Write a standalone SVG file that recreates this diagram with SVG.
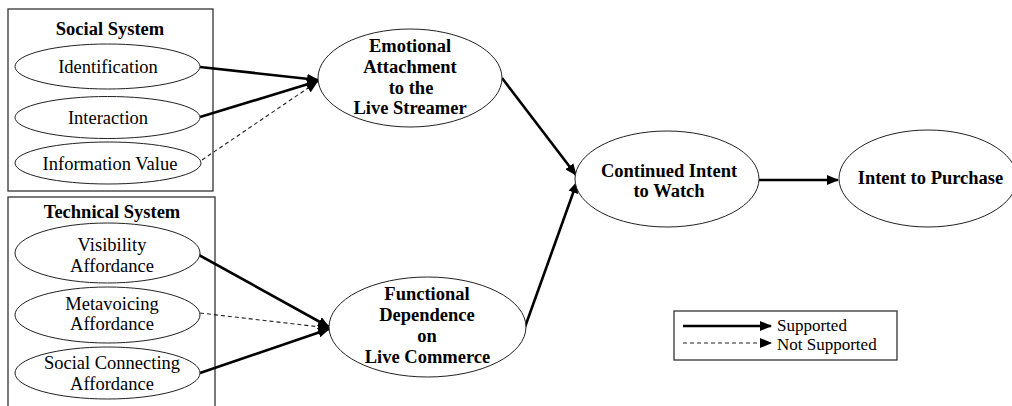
<svg xmlns="http://www.w3.org/2000/svg" width="1012" height="406" viewBox="0 0 1012 406">
<style>
text{font-family:"Liberation Serif","Times New Roman",serif;font-size:18.5px;fill:#000;text-anchor:middle}
.b{font-weight:bold}
.lg{text-anchor:start;font-size:17px}
ellipse{fill:#fff;stroke:#222;stroke-width:1}
.box{fill:none;stroke:#333;stroke-width:1.3}
.s{stroke:#000;stroke-width:2.6;fill:none;marker-end:url(#ah)}
.d{stroke:#222;stroke-width:1.1;stroke-dasharray:4 3;fill:none;marker-end:url(#ah)}
</style>
<defs>
<marker id="ah" viewBox="0 0 12 10" refX="11" refY="5" markerWidth="12" markerHeight="10" markerUnits="userSpaceOnUse" orient="auto">
<path d="M0,0 L12,5 L0,10 z" fill="#000"/>
</marker>
</defs>
<rect width="1012" height="406" fill="#fff"/>
<g id="social-system">
<rect class="box" x="8" y="9" width="205" height="182"/>
<text class="b" x="110" y="35">Social System</text>
</g>
<g id="technical-system">
<rect class="box" x="8" y="197" width="207" height="215"/>
<text class="b" x="112" y="218">Technical System</text>
</g>
<g id="connectors">
<line class="s" x1="200" y1="67" x2="318" y2="80"/>
<line class="s" x1="200" y1="117" x2="318" y2="81"/>
<line class="d" x1="202" y1="160" x2="317" y2="82"/>
<line class="s" x1="199" y1="255" x2="329" y2="327"/>
<line class="d" x1="200" y1="313" x2="329" y2="328"/>
<line class="s" x1="200" y1="373" x2="329" y2="329"/>
<line class="s" x1="502" y1="78" x2="576" y2="175"/>
<line class="s" x1="525" y1="327" x2="577" y2="182"/>
<line class="s" x1="759" y1="180" x2="838" y2="180"/>
</g>
<g id="identification">
<ellipse cx="107.5" cy="66.5" rx="92.5" ry="22.5"/>
<text x="108" y="73">Identification</text>
</g>
<g id="interaction">
<ellipse cx="107.5" cy="117.5" rx="92.5" ry="21"/>
<text x="108" y="124">Interaction</text>
</g>
<g id="information-value">
<ellipse cx="108" cy="163" rx="93" ry="21"/>
<text x="110" y="170">Information Value</text>
</g>
<g id="visibility-affordance">
<ellipse cx="107.5" cy="253" rx="92.5" ry="30"/>
<text x="112" y="251">Visibility</text>
<text x="112" y="271.5">Affordance</text>
</g>
<g id="metavoicing-affordance">
<ellipse cx="107.5" cy="315" rx="92.5" ry="28"/>
<text x="112" y="310">Metavoicing</text>
<text x="112" y="330">Affordance</text>
</g>
<g id="social-connecting-affordance">
<ellipse cx="107.5" cy="373" rx="92.5" ry="26"/>
<text x="112" y="369">Social Connecting</text>
<text x="112" y="390">Affordance</text>
</g>
<g id="emotional-attachment">
<ellipse cx="410" cy="78" rx="92" ry="49"/>
<text class="b" x="410" y="52">Emotional</text>
<text class="b" x="410" y="73">Attachment</text>
<text class="b" x="411" y="94">to the</text>
<text class="b" x="410" y="114">Live Streamer</text>
</g>
<g id="functional-dependence">
<ellipse cx="427.5" cy="327" rx="98.5" ry="50"/>
<text class="b" x="427" y="300">Functional</text>
<text class="b" x="427" y="321">Dependence</text>
<text class="b" x="427" y="342">on</text>
<text class="b" x="427.5" y="363">Live Commerce</text>
</g>
<g id="continued-intent">
<ellipse cx="667" cy="179" rx="92" ry="48"/>
<text class="b" x="669" y="177">Continued Intent</text>
<text class="b" x="669" y="197">to Watch</text>
</g>
<g id="intent-to-purchase">
<ellipse cx="928" cy="178.5" rx="89" ry="48.5"/>
<text class="b" x="930.5" y="184">Intent to Purchase</text>
</g>
<g id="legend">
<rect class="box" x="674" y="311" width="223" height="49"/>
<line class="s" x1="683" y1="326" x2="771" y2="326"/>
<line class="d" x1="683" y1="343" x2="771" y2="343"/>
<text class="lg" x="777" y="330.5">Supported</text>
<text class="lg" x="777" y="349.5">Not Supported</text>
</g>
</svg>
